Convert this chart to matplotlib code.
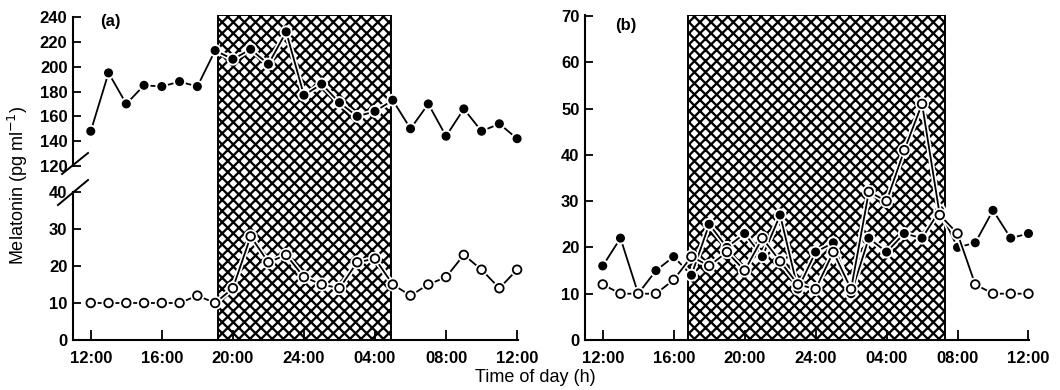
import matplotlib
matplotlib.use("Agg")
import matplotlib.pyplot as plt
import matplotlib.patheffects as pe
from matplotlib.patches import Rectangle
from matplotlib.lines import Line2D

# ---------------- data ----------------
hours = [0, 1, 2, 3, 4, 5, 6, 7, 8, 9, 10, 11, 12, 13, 14, 15, 16, 17, 18, 19, 20, 21, 22, 23, 24]
tick_hours = [0, 4, 8, 12, 16, 20, 24]
tick_labels = ["12:00", "16:00", "20:00", "24:00", "04:00", "08:00", "12:00"]

# panel (a)
a_filled = [148, 195, 170, 185, 184, 188, 184, 213, 206, 214, 202, 228, 177,
            186, 171, 160, 164, 173, 150, 170, 144, 166, 148, 154, 142]
a_open = [10, 10, 10, 10, 10, 10, 12, 10, 14, 28, 21, 23, 17,
          15, 14, 21, 22, 15, 12, 15, 17, 23, 19, 14, 19]
a_dark = (7.15, 16.9)

# panel (b)
b_filled = [16, 22, 10, 15, 18, 14, 25, 20, 23, 18, 27, 11, 19,
            21, 10, 22, 19, 23, 22, 28, 20, 21, 28, 22, 23]
b_open = [12, 10, 10, 10, 13, 18, 16, 19, 15, 22, 17, 12, 11,
          19, 11, 32, 30, 41, 51, 27, 23, 12, 10, 10, 10]
b_dark = (4.79, 19.27)

a_upper_ticks = [120, 140, 160, 180, 200, 220, 240]
a_lower_ticks = [0, 10, 20, 30, 40]
b_ticks = [0, 10, 20, 30, 40, 50, 60, 70]

# ---------------- style ----------------
plt.rcParams["font.family"] = ["Liberation Sans", "DejaVu Sans"]
plt.rcParams["hatch.linewidth"] = 1.65
FS = 12
W, H = 1060, 390
fig = plt.figure(figsize=(W / 100, H / 100), dpi=100)


def px_axes(left, top, right, bottom, **kw):
    return fig.add_axes([left / W, 1 - bottom / H, (right - left) / W, (bottom - top) / H], **kw)


halo = [pe.withStroke(linewidth=3.8, foreground="white")]
line_kw = dict(color="black", lw=1.3, path_effects=halo, zorder=5, clip_on=False)
filled_kw = dict(marker="o", ms=5.5, mfc="black", mec="black", **line_kw)
open_kw = dict(marker="o", ms=6.2, mfc="white", mec="black", mew=1.3, **line_kw)


def shade(ax, span):
    r = Rectangle((span[0], 0), span[1] - span[0], 1, transform=ax.get_xaxis_transform(),
                  facecolor="white", edgecolor="black", hatch="xxx", lw=1.4, zorder=0)
    ax.add_patch(r)


def style_y(ax):
    ax.tick_params(axis="y", direction="in", length=6, width=1.3, pad=4, labelsize=FS)
    for lab in ax.get_yticklabels():
        lab.set_fontweight("bold")
    ax.spines["left"].set_linewidth(1.5)


def style_x(ax):
    ax.set_xticks(tick_hours)
    ax.set_xticklabels(tick_labels, fontsize=FS, fontweight="bold")
    ax.tick_params(axis="x", direction="in", length=7, width=1.3, pad=8)
    ax.spines["bottom"].set_linewidth(1.5)


# ---------------- panel (a) ----------------
xl_a = (-1.0, 24.05)
bg_a = px_axes(73, 15, 518, 340)
bg_a.set_xlim(*xl_a)
bg_a.set_ylim(0, 1)
bg_a.axis("off")
shade(bg_a, a_dark)

up = px_axes(73, 17, 518, 166)
up.patch.set_alpha(0)
up.set_xlim(*xl_a)
up.set_ylim(120, 240)
up.set_yticks(a_upper_ticks)
for s in ["top", "right", "bottom"]:
    up.spines[s].set_visible(False)
up.set_xticks([])
style_y(up)
up.plot(hours, a_filled, **filled_kw)
up.text(0.5, 236, "(a)", fontsize=FS, fontweight="bold", va="center", ha="left")

lo = px_axes(73, 192, 518, 340)
lo.patch.set_alpha(0)
lo.set_xlim(*xl_a)
lo.set_ylim(0, 40)
lo.set_yticks(a_lower_ticks)
for s in ["top", "right"]:
    lo.spines[s].set_visible(False)
style_y(lo)
style_x(lo)
lo.plot(hours, a_open, **open_kw)

# axis-break marks
for (x0, y0, x1, y1) in [(62, 174, 88, 153), (58, 205, 88, 180)]:
    fig.add_artist(Line2D([x0 / W, x1 / W], [1 - y0 / H, 1 - y1 / H], color="black", lw=1.4))

# ---------------- panel (b) ----------------
bx = px_axes(585, 15, 1029, 340)
bx.patch.set_alpha(0)
bx.set_xlim(-1.0, 24.03)
bx.set_ylim(0, 70.2)
bx.set_yticks(b_ticks)
for s in ["top", "right"]:
    bx.spines[s].set_visible(False)
style_y(bx)
style_x(bx)
shade(bx, b_dark)
bx.plot(hours, b_filled, **filled_kw)
bx.plot(hours, b_open, **open_kw)
bx.text(0.7, 68, "(b)", fontsize=FS, fontweight="bold", va="center", ha="left")

# ---------------- axis titles ----------------
fig.text(18 / W, 1 - 185 / H, "Melatonin (pg ml$^{-1}$)", rotation=90, ha="center", va="center",
         fontsize=FS + 1)
fig.text(535 / W, 1 - 378 / H, "Time of day (h)", ha="center", va="center", fontsize=FS + 1)

fig.savefig("out.png", dpi=100)
